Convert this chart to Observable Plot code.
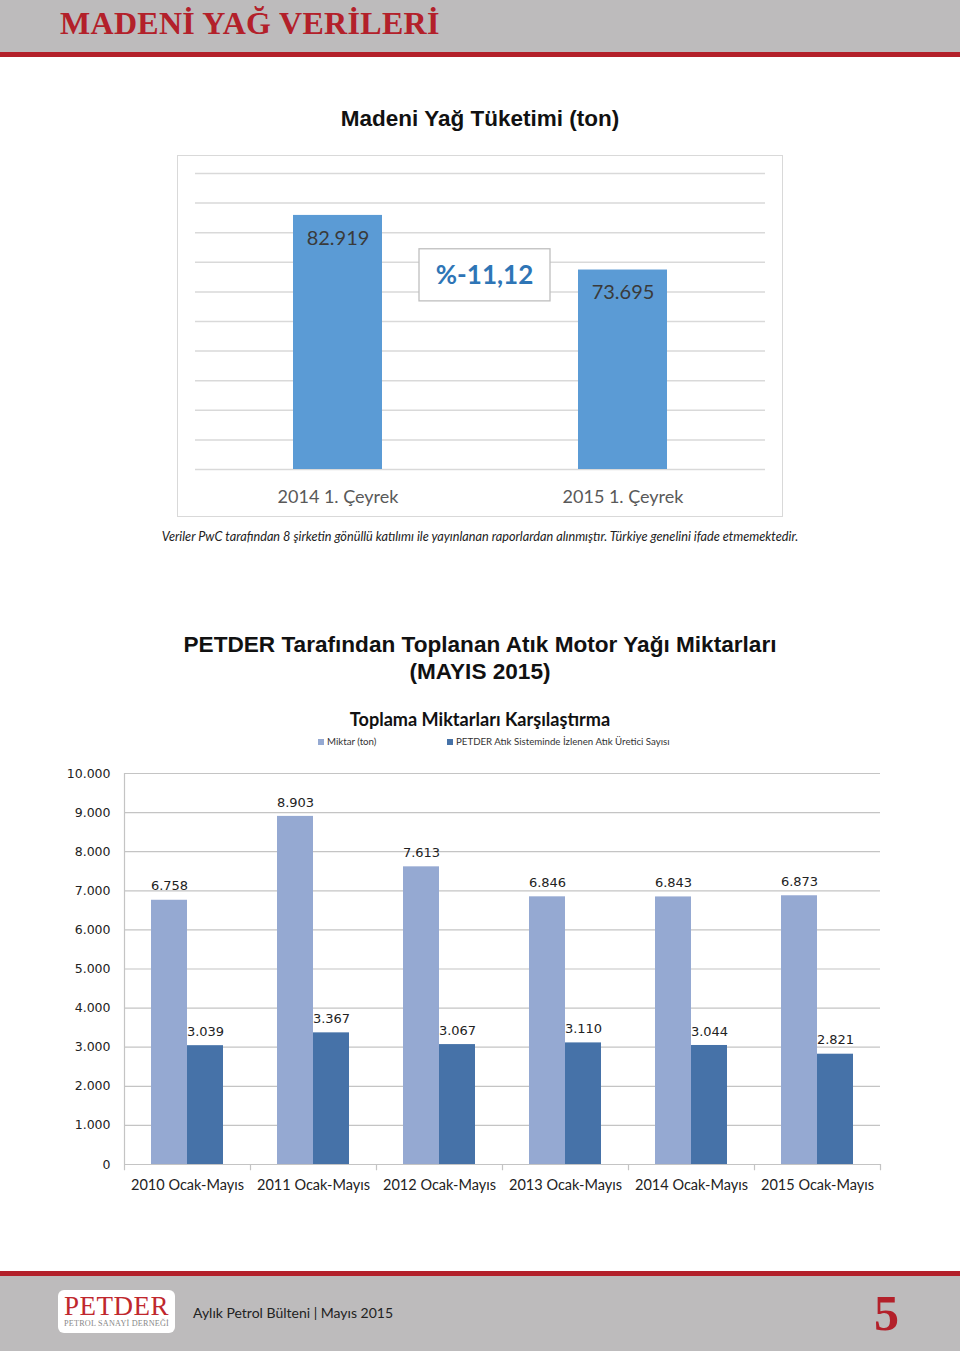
<!DOCTYPE html>
<html>
<head>
<meta charset="utf-8">
<script src="https://cdn.jsdelivr.net/npm/d3@7"></script>
<script src="https://cdn.jsdelivr.net/npm/@observablehq/plot@0.6"></script>
<style>
  html, body { margin: 0; padding: 0; background: #fff; }
  #page { position: relative; width: 960px; height: 1351px; overflow: hidden; background: #fff; }
  .abs { position: absolute; }
  #hdr { left: 0; top: 0; width: 960px; height: 52px; background: #bdbbbc; }
  #hdrline { left: 0; top: 52px; width: 960px; height: 5px; background: #b3202a; }
  #hdrtitle { left: 60px; top: 5px; font-family: "Liberation Serif", serif; font-weight: bold; font-size: 32px; color: #b3202a; white-space: nowrap; letter-spacing: 0.3px; }
  #t1 { left: 0; width: 960px; top: 106px; text-align: center; font-family: "Liberation Sans", Arial, sans-serif; font-weight: bold; font-size: 22.5px; color: #111; }
  #c1wrap { left: 177px; top: 155px; width: 604px; height: 360px; border: 1px solid #d9d9d9; }
  #cap { left: 0; width: 960px; top: 528px; text-align: center; font-family: Lato, sans-serif; font-style: italic; font-size: 12.7px; color: #222; white-space: nowrap; }
  #t2 { left: 0; width: 960px; top: 631px; text-align: center; font-family: "Liberation Sans", Arial, sans-serif; font-weight: bold; font-size: 22.6px; line-height: 27px; color: #111; }
  #t2in { left: 0; width: 960px; top: 708px; text-align: center; font-family: Lato, sans-serif; font-weight: bold; font-size: 18.1px; color: #111; }
  .leg { top: 735px; font-family: Lato, sans-serif; font-size: 9.7px; color: #333; white-space: nowrap; }
  .leg i { display: inline-block; width: 6px; height: 6px; margin-right: 3px; vertical-align: 0px; }
  #c2wrap { left: 0; top: 760px; width: 960px; height: 440px; }
  #ftrline { left: 0; top: 1271px; width: 960px; height: 5px; background: #b3202a; }
  #ftr { left: 0; top: 1276px; width: 960px; height: 75px; background: #bdbbbc; }
  #logo { left: 58px; top: 1290px; width: 117px; height: 43px; background: #fff; border-radius: 6px; }
  #logo .big { position: absolute; left: 0; width: 117px; top: 3px; text-align: center; font-family: "Liberation Serif", serif; font-size: 27px; line-height: 27px; color: #c0272d; letter-spacing: 0.5px; }
  #logo .small { position: absolute; left: 0; width: 117px; top: 29px; text-align: center; font-family: "Liberation Serif", serif; font-size: 8.2px; color: #888; letter-spacing: 0.2px; }
  #ftrtext { left: 193px; top: 1304px; font-family: Lato, sans-serif; font-size: 14px; color: #222; white-space: nowrap; }
  #pgnum { left: 874px; top: 1284px; font-family: "Liberation Serif", serif; font-weight: bold; font-size: 50px; color: #b3202a; }
</style>
</head>
<body>
<div id="page">
  <div id="hdr" class="abs"></div>
  <div id="hdrline" class="abs"></div>
  <div id="hdrtitle" class="abs">MADENİ YAĞ VERİLERİ</div>

  <div id="t1" class="abs">Madeni Yağ Tüketimi (ton)</div>
  <div id="c1wrap" class="abs"></div>
  <div id="cap" class="abs">Veriler PwC tarafından 8 şirketin gönüllü katılımı ile yayınlanan raporlardan alınmıştır. Türkiye genelini ifade etmemektedir.</div>

  <div id="t2" class="abs">PETDER Tarafından Toplanan Atık Motor Yağı Miktarları<br>(MAYIS 2015)</div>
  <div id="t2in" class="abs">Toplama Miktarları Karşılaştırma</div>
  <div class="abs leg" style="left:318px"><i style="background:#95a9d2"></i>Miktar (ton)</div>
  <div class="abs leg" style="left:447px"><i style="background:#4672a8"></i>PETDER Atık Sisteminde İzlenen Atık Üretici Sayısı</div>
  <div id="c2wrap" class="abs"></div>

  <div id="ftrline" class="abs"></div>
  <div id="ftr" class="abs"></div>
  <div id="logo" class="abs"><div class="big">PETDER</div><div class="small">PETROL SANAYİ DERNEĞİ</div></div>
  <div id="ftrtext" class="abs">Aylık Petrol Bülteni | Mayıs 2015</div>
  <div id="pgnum" class="abs">5</div>
</div>

<script>
// ---------- Data: chart 1 ----------
const quarterCategories = ["2014 1. Çeyrek", "2015 1. Çeyrek"];
const quarterValues = [82919, 73695];
const quarterTicks = [40000, 45000, 50000, 55000, 60000, 65000, 70000, 75000, 80000, 85000, 90000];
const changeLabelValue = 72800;   // vertical anchor of the change annotation (ton scale)

// ---------- Data: chart 2 ----------
const periods = ["2010 Ocak-Mayıs", "2011 Ocak-Mayıs", "2012 Ocak-Mayıs", "2013 Ocak-Mayıs", "2014 Ocak-Mayıs", "2015 Ocak-Mayıs"];
const miktar = [6758, 8903, 7613, 6846, 6843, 6873];
const ureticiSayisi = [3039, 3367, 3067, 3110, 3044, 2821];
const seriesNames = ["Miktar (ton)", "PETDER Atık Sisteminde İzlenen Atık Üretici Sayısı"];
const amountTicks = [0, 1000, 2000, 3000, 4000, 5000, 6000, 7000, 8000, 9000, 10000];

const trLocale = d3.formatLocale({decimal: ",", thousands: ".", grouping: [3], currency: ["", " TL"], minus: "-"});
const fmtInt = trLocale.format(",d");
const fmtPct = trLocale.format(".2f");

// ---------- Chart 1 ----------
{
  const rows = quarterCategories.map((c, i) => ({cat: c, value: quarterValues[i]}));
  const change = (quarterValues[1] - quarterValues[0]) / quarterValues[0] * 100;
  const boxHalf = 4400;
  const chart = Plot.plot({
    width: 604, height: 360,
    marginLeft: 17, marginRight: 17, marginTop: 17, marginBottom: 47,
    style: {background: "transparent", overflow: "visible"},
    x: {domain: quarterCategories, paddingInner: 0.688, paddingOuter: 0.344, label: null},
    y: {domain: [40000, 90000], axis: null},
    marks: [
      Plot.ruleY(quarterTicks, {stroke: "#d9d9d9", strokeWidth: 1.5}),
      Plot.barY(rows, {x: "cat", y1: 40000, y2: "value", fill: "#5b9bd5"}),
      Plot.text(rows, {x: "cat", y: "value", text: d => fmtInt(d.value), dy: 23, fill: "#3a3a3a", fontSize: 20, fontFamily: "Lato, sans-serif"}),
      Plot.rect([change], {y1: changeLabelValue - boxHalf, y2: changeLabelValue + boxHalf, insetLeft: 224, insetRight: 215, fill: "#fff", stroke: "#bfbfbf", strokeWidth: 1.3}),
      Plot.text([change], {y: changeLabelValue, frameAnchor: "middle", dx: 4, text: d => "%" + fmtPct(d), fill: "#2e75b6", fontSize: 26, fontWeight: "bold", fontFamily: "Lato, sans-serif"}),
      Plot.axisX({tickSize: 0, tickPadding: 21, fontSize: 18, fill: "#595959", fontFamily: "Lato, sans-serif", label: null})
    ]
  });
  document.getElementById("c1wrap").appendChild(chart);
}

// ---------- Chart 2 ----------
{
  const W = 960, ML = 124, MR = 80;
  const step = (W - ML - MR) / periods.length;
  const rows = periods.map((p, i) => ({period: p, a: miktar[i], b: ureticiSayisi[i]}));
  const barW = 36, outer = (step - 2 * barW) / 2;
  const chart = Plot.plot({
    width: W, height: 440,
    marginLeft: ML, marginRight: MR, marginTop: 13, marginBottom: 36,
    style: {background: "transparent", overflow: "visible"},
    x: {domain: periods, padding: 0, label: null},
    y: {domain: [0, 10000], label: null},
    marks: [
      Plot.ruleY(amountTicks, {stroke: "#c4c4c4", strokeWidth: 1.2}),
      Plot.ruleX([periods[0]], {dx: -step / 2, y1: 0, y2: 10000, stroke: "#c4c4c4", strokeWidth: 1.2}),
      Plot.ruleX(periods, {dx: -step / 2, y1: 0, y2: -160, stroke: "#c4c4c4", strokeWidth: 1.2}),
      Plot.ruleX([periods[periods.length - 1]], {dx: step / 2, y1: 0, y2: -160, stroke: "#c4c4c4", strokeWidth: 1.2}),
      Plot.barY(rows, {x: "period", y: "a", fill: "#95a9d2", insetLeft: outer, insetRight: step - outer - barW, title: () => seriesNames[0]}),
      Plot.barY(rows, {x: "period", y: "b", fill: "#4672a8", insetLeft: outer + barW, insetRight: outer, title: () => seriesNames[1]}),
      Plot.text(rows, {x: "period", y: "a", dx: -barW / 2, dy: -14, text: d => fmtInt(d.a), fill: "#222", fontSize: 13, fontFamily: "DejaVu Sans, sans-serif"}),
      Plot.text(rows, {x: "period", y: "b", dx: barW / 2, dy: -14, text: d => fmtInt(d.b), fill: "#222", fontSize: 13, fontFamily: "DejaVu Sans, sans-serif"}),
      Plot.axisY({ticks: amountTicks, tickSize: 0, tickPadding: 14, tickFormat: d => d === 0 ? "0" : fmtInt(d), fontSize: 12.5, fill: "#222", fontFamily: "DejaVu Sans, sans-serif", label: null}),
      Plot.axisX({tickSize: 0, tickPadding: 15, fontSize: 14.5, fill: "#222", fontFamily: "Lato, sans-serif", label: null})
    ]
  });
  document.getElementById("c2wrap").appendChild(chart);
}
</script>
</body>
</html>
